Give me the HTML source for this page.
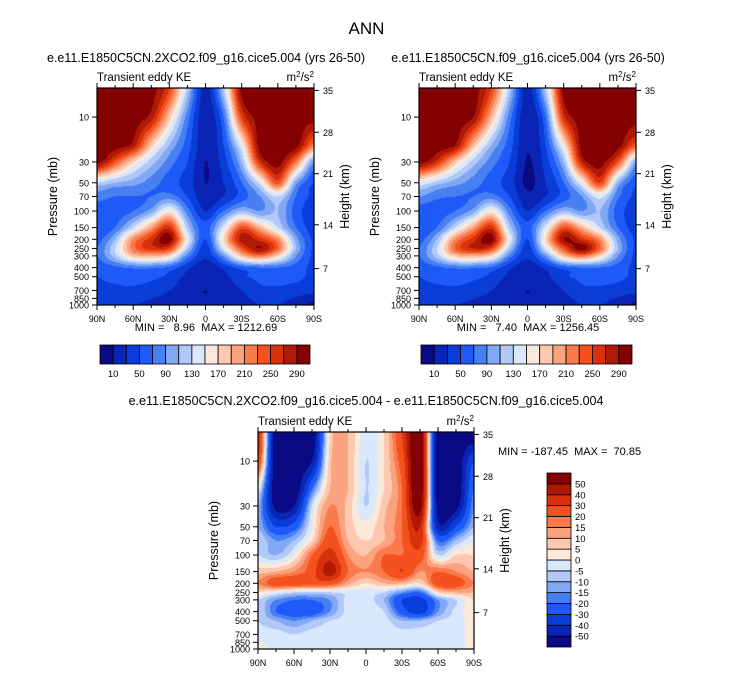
<!DOCTYPE html>
<html><head><meta charset="utf-8">
<style>
html,body{margin:0;padding:0;background:#fff;}
body{width:733px;height:673px;position:relative;overflow:hidden;font-family:"Liberation Sans",Arial,sans-serif;color:#000;}
.t{position:absolute;white-space:nowrap;}
canvas{position:absolute;}
svg{position:absolute;left:0;top:0;}
</style></head>
<body>
<div class="t" style="left:0;width:733px;text-align:center;top:19px;font-size:17px;">ANN</div>
<div class="t" style="left:206px;top:51px;font-size:12.5px;transform:translateX(-50%);">e.e11.E1850C5CN.2XCO2.f09_g16.cice5.004 (yrs 26-50)</div>
<div class="t" style="left:528px;top:51px;font-size:12.5px;transform:translateX(-50%);">e.e11.E1850C5CN.f09_g16.cice5.004 (yrs 26-50)</div>
<div class="t" style="left:366px;top:394px;font-size:12.5px;transform:translateX(-50%);">e.e11.E1850C5CN.2XCO2.f09_g16.cice5.004 - e.e11.E1850C5CN.f09_g16.cice5.004</div>

<canvas id="c1" width="217" height="217" style="left:97px;top:88px;"></canvas>
<canvas id="c2" width="217" height="217" style="left:419px;top:88px;"></canvas>
<canvas id="c3" width="216" height="217" style="left:258px;top:432px;"></canvas>
<svg id="ov" width="733" height="673"></svg>

<script>
// ---- data ----
const pressures=[5,10,20,30,50,70,100,150,200,250,300,400,500,700,1000];
const latLabels=["90N","60N","30N","0","30S","60S","90S"];
const pTickLabels=[10,30,50,70,100,150,200,250,300,400,500,700,850,1000];
const hTickLabels=[35,28,21,14,7];
const hTickPressures=[5.2,14.5,40,140,410];
const keLevels=[10,30,50,70,90,110,130,150,170,190,210,230,250,270,290];
const keLabels=["10","50","90","130","170","210","250","290"];
const diffLevels=[-50,-40,-30,-20,-15,-10,-5,0,5,10,15,20,30,40,50];
const diffLabels=["-50","-40","-30","-20","-15","-10","-5","0","5","10","15","20","30","40","50"];
const colors=["#0a0a85","#0a25b5","#0a3dd8","#1e5af8","#4680f2","#82a8f5","#b2c8f8","#d9e8fc","#fde9d9","#fcc9b0","#faa37e","#f87a4d","#f4511f","#d8320c","#b01906","#850000"];
const ke1=[
[300,300,300,300,250,120,20,120,300,300,300,300,300],
[300,300,300,280,180,80,15,70,250,300,300,300,300],
[300,300,280,180,110,60,15,50,150,300,300,300,220],
[300,240,170,120,80,50,10,40,110,260,300,220,90],
[130,110,100,80,60,40,10,30,70,140,240,100,50],
[80,70,70,70,80,50,15,30,60,90,130,70,45],
[60,60,70,100,160,80,30,70,110,90,110,60,40],
[50,70,130,200,260,120,60,140,240,190,130,70,40],
[60,110,210,260,300,150,50,170,280,260,210,100,45],
[70,130,220,260,250,120,40,140,240,290,230,110,45],
[70,120,180,190,170,80,35,90,180,220,170,90,45],
[55,65,75,75,65,35,15,35,60,70,70,60,45],
[50,55,60,55,45,25,15,25,45,55,60,55,45],
[45,45,45,40,30,15,10,15,30,45,45,40,35],
[30,30,30,25,20,15,12,15,20,30,30,20,5]];
const ke2=[
[300,300,300,300,250,120,20,120,300,300,300,300,300],
[300,300,300,290,190,80,15,70,260,300,300,300,300],
[300,300,290,190,110,60,12,50,160,300,300,300,240],
[300,260,180,120,80,50,8,40,110,270,300,240,100],
[150,120,100,80,60,40,5,30,70,150,250,110,55],
[90,75,70,70,80,50,15,30,60,90,140,75,45],
[60,60,70,100,160,80,30,70,110,90,110,60,40],
[50,70,130,200,260,120,60,140,240,190,130,70,40],
[60,110,210,260,300,150,50,170,290,260,210,100,45],
[70,130,230,270,250,120,40,140,240,300,230,110,45],
[70,120,180,190,170,80,35,90,180,220,170,90,45],
[55,65,75,75,65,35,15,35,60,70,70,60,45],
[50,55,60,55,45,25,15,25,45,55,60,55,45],
[45,45,45,40,30,15,10,15,30,45,45,40,35],
[30,30,30,25,20,15,12,15,20,30,30,20,5]];
const diff=[
[40,-60,-60,-60,5,10,-3,5,30,60,-60,-60,-60],
[30,-60,-60,-50,8,10,-5,5,25,60,-60,-60,-30],
[0,-60,-60,-20,10,10,-5,5,20,60,-60,-60,-20],
[-10,-55,-50,-5,15,8,-5,8,20,55,-55,-55,-15],
[-10,-30,-25,0,20,8,2,10,20,40,-45,-30,-10],
[-5,-15,-10,5,25,10,5,10,20,35,-20,-10,0],
[-5,-10,0,20,35,15,10,20,20,25,-5,5,5],
[8,10,15,25,45,20,15,20,30,15,20,15,10],
[15,25,25,25,25,12,5,10,10,5,25,25,15],
[5,0,-5,-5,-5,-3,-3,-5,-15,-20,5,10,10],
[-5,-15,-20,-20,-15,-3,-3,-10,-30,-35,-15,-5,5],
[-5,-20,-25,-25,-15,-3,-3,-5,-25,-35,-15,-3,3],
[-5,-10,-15,-10,-5,-3,-3,-3,-10,-10,-5,-3,3],
[-3,-3,-5,-3,-3,-3,-3,-3,-3,-3,-3,-3,3],
[3,-3,-3,-3,-3,-3,-3,-3,-3,-3,-3,-3,3]];

// ---- scales ----
const pTop=4.9,pBot=1000;
function yOf(p,top,h){return top+(Math.log10(p)-Math.log10(pTop))/(Math.log10(pBot)-Math.log10(pTop))*h;}
function hex(c){return [parseInt(c.slice(1,3),16),parseInt(c.slice(3,5),16),parseInt(c.slice(5,7),16)];}
const rgb=colors.map(hex);
function cr(p0,p1,p2,p3,t){return 0.5*(2*p1+(-p0+p2)*t+(2*p0-5*p1+4*p2-p3)*t*t+(-p0+3*p1-3*p2+p3)*t*t*t);}
function rowAt(grid,r,fx){const n=grid[r].length;let c=Math.min(n-2,Math.floor(fx));const t=fx-c;
  const g=i=>grid[r][Math.max(0,Math.min(n-1,i))];return cr(g(c-1),g(c),g(c+1),g(c+2),t);}
function sample(grid,fx,lp,lps){
  let r=0;while(r<lps.length-2&&lp>lps[r+1])r++;
  let ty=(lp-lps[r])/(lps[r+1]-lps[r]);ty=Math.max(0,Math.min(1,ty));
  const R=i=>rowAt(grid,Math.max(0,Math.min(lps.length-1,i)),fx);
  return cr(R(r-1),R(r),R(r+1),R(r+2),ty);
}
function drawField(id,grid,levels){
  const cv=document.getElementById(id),ctx=cv.getContext('2d');
  const lps=pressures.map(Math.log10);
  const W=cv.width,H=cv.height,img=ctx.createImageData(W,H);
  const l0=Math.log10(pTop),l1=Math.log10(pBot);
  for(let y=0;y<H;y++){const lp=l0+(y+0.5)/H*(l1-l0);
    for(let x=0;x<W;x++){const v=sample(grid,(x+0.5)/W*12,lp,lps);
      let k=0;while(k<levels.length&&v>=levels[k])k++;
      const c=rgb[k],i=(y*W+x)*4;img.data[i]=c[0];img.data[i+1]=c[1];img.data[i+2]=c[2];img.data[i+3]=255;}}
  ctx.putImageData(img,0,0);
}
drawField('c1',ke1,keLevels);drawField('c2',ke2,keLevels);drawField('c3',diff,diffLevels);

const NS='http://www.w3.org/2000/svg',ov=document.getElementById('ov');
function el(tag,attrs,txt){const e=document.createElementNS(NS,tag);for(const k in attrs)e.setAttribute(k,attrs[k]);if(txt!==undefined)e.textContent=txt;ov.appendChild(e);return e;}
function txt(x,y,s,size,anchor,name){const t=el('text',{x:x,y:y,'font-size':size,'text-anchor':anchor||'start','font-family':'Liberation Sans, Arial, sans-serif',style:'white-space:pre'},s);
  
  return t;}

function axes(L,T,W,H,n){
  const f=el('rect',{x:L,y:T,width:W,height:H,fill:'none',stroke:'#000','stroke-width':1.2});
  
  
  for(let i=0;i<=12;i++){const x=L+i*W/12,len=(i%2===0)?5:3;
    el('line',{x1:x,y1:T+H,x2:x,y2:T+H+len,stroke:'#000','stroke-width':1});
    el('line',{x1:x,y1:T,x2:x,y2:T-len,stroke:'#000','stroke-width':1});}
  latLabels.forEach((s,i)=>txt(L+i*W/6,T+H+17,s,9,'middle','x-tick-label'));
  pTickLabels.forEach(p=>{const y=yOf(p,T,H);
    el('line',{x1:L,y1:y,x2:L-5,y2:y,stroke:'#000','stroke-width':1});
    txt(L-8,y+3.5,String(p),9,'end','y-tick-label');});
  hTickLabels.forEach((h,i)=>{const y=yOf(hTickPressures[i],T,H);
    el('line',{x1:L+W,y1:y,x2:L+W+5,y2:y,stroke:'#000','stroke-width':1});
    txt(L+W+9,y+3.5,String(h),9,'start','right-tick-label');});
  txt(L,T-7,'Transient eddy KE',11.5,'start','panel-subtitle');
  const u=txt(L+W,T-7,'',11.5,'end','units-label');
  u.innerHTML='m<tspan dy="-4" font-size="8">2</tspan><tspan dy="4">/s</tspan><tspan dy="-4" font-size="8">2</tspan>';
  const yl=txt(0,0,'Pressure (mb)',12.5,'middle','y-axis-title');yl.setAttribute('transform','translate('+(L-40)+','+(T+H/2)+') rotate(-90)');
  const hl=txt(0,0,'Height (km)',12.5,'middle','right-axis-title');hl.setAttribute('transform','translate('+(L+W+35)+','+(T+H/2)+') rotate(-90)');
}
axes(97,88,217,217,1);axes(419,88,217,217,2);axes(258,432,216,217,3);

txt(206,331,'MIN =   8.96  MAX = 1212.69',11,'middle','panel1-minmax');
txt(528,331,'MIN =   7.40  MAX = 1256.45',11,'middle','panel2-minmax');
txt(498,455,'MIN = -187.45  MAX =  70.85',11,'start','panel3-minmax');

function hbar(L,T,W,H,n){const w=W/16;
  colors.forEach((c,i)=>{const r=el('rect',{x:L+i*w,y:T,width:w,height:H,fill:c,stroke:'#000','stroke-width':0.8});
    
    });
  keLabels.forEach((s,i)=>txt(L+(1+2*i)*w,T+H+13,s,9.5,'middle','colorbar-label'));}
hbar(100,345,210,19,1);hbar(421,345,211,19,2);
(function(){const L=547,T=473,W=24,H=174,h=H/16;
  colors.forEach((c,i)=>{const r=el('rect',{x:L,y:T+H-(i+1)*h,width:W,height:h,fill:c,stroke:'#000','stroke-width':0.8});
    
    });
  diffLabels.forEach((s,i)=>txt(L+W+4,T+H-(i+1)*h+3.5,s,9.5,'start','colorbar3-label'));})();
</script>
</body></html>
